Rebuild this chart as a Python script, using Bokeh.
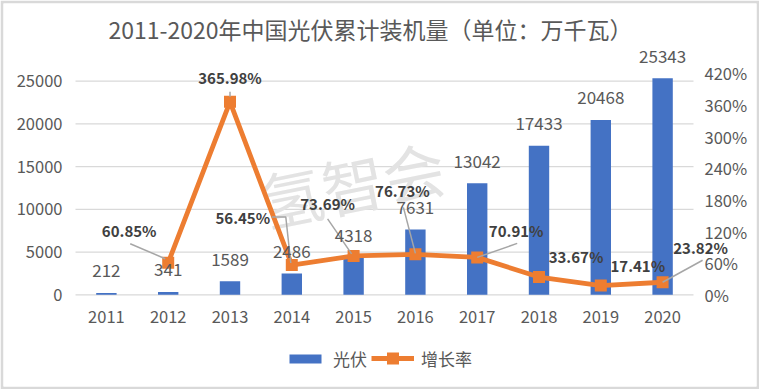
from bokeh.plotting import figure
from bokeh.models import (Range1d, LinearAxis, FixedTicker, Label, Legend, LegendItem,
                          PrintfTickFormatter)
from bokeh.embed import file_html
from bokeh.resources import INLINE
from bokeh.core.properties import value

# ---------------- data ----------------
years = ["2011", "2012", "2013", "2014", "2015", "2016", "2017", "2018", "2019", "2020"]
capacity = [212, 341, 1589, 2486, 4318, 7631, 13042, 17433, 20468, 25343]
growth_years = ["2012", "2013", "2014", "2015", "2016", "2017", "2018", "2019", "2020"]
growth = [60.85, 365.98, 56.45, 73.69, 76.73, 70.91, 33.67, 17.41, 23.82]
left_ticks = [0, 5000, 10000, 15000, 20000, 25000]
right_ticks = [0, 60, 120, 180, 240, 300, 360, 420]
title_text = "2011-2020年中国光伏累计装机量（单位：万千瓦）"
watermark = "氢智会"

# ---------------- layout (pixels, page coords) ----------------
W, H = 759, 389
B = 3                            # grey border width
FL, FT, FR, FB = B, B, W - B, H - B   # frame covers nearly the whole canvas
BAND_L, BAND_R = 75, 693         # category band
ZERO_Y = 294.3                   # y of value 0
CAT_W = (BAND_R - BAND_L) / len(years)
PX_PER_LEFT = 213.6 / 25000      # px per unit, primary axis
PX_PER_PCT = 221.5 / 420         # px per %, secondary axis
X_RANGE = (-(BAND_L - FL) / CAT_W, len(years) + (FR - BAND_R) / CAT_W)
LEFT_RANGE = (-(FB - ZERO_Y) / PX_PER_LEFT, (ZERO_Y - FT) / PX_PER_LEFT)
RIGHT_RANGE = (-(FB - ZERO_Y) / PX_PER_PCT, (ZERO_Y - FT) / PX_PER_PCT)

def fx(px):
    return px - FL

def fy(py):
    return FB - py

# percent-label offsets from their point (px)
pct_dx = [-39, 0, -49, -26, -13, 39, 37, 37, 38]
pct_dy = [-32, -24, -48, -52, -64, -27, -21, -20, -35]
# leader lines, as pixel paths relative to their point
leaders = {
    "2012": [(-38, -19), (-3, -4)],
    "2013": [(0, -10), (0, -5)],
    "2014": [(-20, -48), (-6, -48), (-1, -2)],
    "2015": [(-26, -37), (-2, -2)],
    "2016": [(-12, -47), (0, -1)],
    "2017": [(40, -14), (0, 0)],
    "2020": [(40, -22), (0, 0)],
}

FONTNAME = "Noto Sans CJK SC"
FONT = value(FONTNAME)
GRAY = "#595959"
BLUE = "#4472C4"
ORANGE = "#ED7D31"
TICK_SIZE = "16.5px"

p = figure(width=W, height=H, x_range=Range1d(*X_RANGE), y_range=Range1d(*LEFT_RANGE),
           output_backend="svg", toolbar_location=None,
           min_border_left=FL, min_border_right=W - FR, min_border_top=FT,
           min_border_bottom=H - FB)
p.extra_y_ranges = {"pct": Range1d(*RIGHT_RANGE)}
p.outline_line_color = None
p.background_fill_color = "white"
p.border_fill_color = "#d9d9d9"

xpos = {y: i + 0.5 for i, y in enumerate(years)}
bx = [xpos[y] for y in years]
gx = [xpos[y] for y in growth_years]

# watermark
p.add_layout(Label(x=fx(352), y=fy(182), x_units="screen", y_units="screen", text=watermark,
                   text_font=FONTNAME, text_font_size="62px", text_color="#e3e3e3",
                   text_align="center", text_baseline="middle", angle=0.2, level="underlay"))

# grid lines across the category band
p.segment(x0=[0] * len(left_ticks), x1=[len(years)] * len(left_ticks), y0=left_ticks,
          y1=left_ticks, line_color="#d9d9d9", line_width=1.2, level="underlay")

bars = p.vbar(x=bx, top=capacity, width=0.33, fill_color=BLUE, line_color=None)
line = p.line(x=gx, y=growth, y_range_name="pct", line_color=ORANGE, line_width=4.8,
              line_join="round")
marks = p.scatter(x=gx, y=growth, y_range_name="pct", marker="square", size=12,
                  fill_color=ORANGE, line_color=None)

# leader lines
gmap = dict(zip(growth_years, growth))
lxs, lys = [], []
for yr, path in leaders.items():
    lxs.append([xpos[yr] + dx / CAT_W for dx, dy in path])
    lys.append([gmap[yr] - dy / PX_PER_PCT for dx, dy in path])
p.multi_line(xs=lxs, ys=lys, y_range_name="pct", line_color="#a6a6a6", line_width=1.5)

# bar labels
p.text(x=bx, y=capacity, text=[str(v) for v in capacity], y_offset=-22,
       text_align="center", text_baseline="middle", text_font=FONT,
       text_font_size="17px", text_color=GRAY)
# percent labels
p.text(x=gx, y=growth, text=[f"{v:.2f}%" for v in growth], x_offset=pct_dx, y_offset=pct_dy,
       y_range_name="pct", text_align="center", text_baseline="middle", text_font=FONT,
       text_font_size="15px", text_font_style="bold", text_color="#404040")

# axes (labels drawn inside the frame via negative standoffs)
p.xaxis.ticker = FixedTicker(ticks=bx)
p.xaxis.major_label_overrides = {xpos[y]: y for y in years}
p.yaxis.ticker = FixedTicker(ticks=left_ticks)
right = LinearAxis(y_range_name="pct", ticker=FixedTicker(ticks=right_ticks),
                   formatter=PrintfTickFormatter(format="%d%%"))
p.add_layout(right, "right")
for ax in [p.xaxis[0], p.yaxis[0], right]:
    ax.axis_line_color = None
    ax.major_tick_line_color = None
    ax.minor_tick_line_color = None
    ax.major_tick_out = 0
    ax.major_tick_in = 0
    ax.major_label_text_font = FONTNAME
    ax.major_label_text_font_size = TICK_SIZE
    ax.major_label_text_color = GRAY
p.xaxis.major_label_standoff = 310 - FB
p.yaxis[0].major_label_standoff = -(62 - FL)
right.major_label_standoff = 704 - FR

p.xgrid.visible = False
p.ygrid.visible = False

# title
p.add_layout(Label(x=fx(370), y=fy(28.5), x_units="screen", y_units="screen", text=title_text,
                   text_font=FONTNAME, text_font_size="23px", text_color=GRAY,
                   text_align="center", text_baseline="middle"))

# legends
leg1 = Legend(items=[LegendItem(label="光伏", renderers=[bars])], location=(fx(285), fy(371)),
              glyph_width=40, glyph_height=11, label_height=11, padding=0, margin=0,
              label_standoff=8, border_line_color=None, background_fill_alpha=0,
              label_text_font=FONTNAME, label_text_font_size="17px", label_text_color=GRAY)
leg2 = Legend(items=[LegendItem(label="增长率", renderers=[line, marks])],
              location=(fx(371), fy(373)),
              glyph_width=43, glyph_height=30, label_height=30, padding=0, margin=0,
              label_standoff=7, border_line_color=None, background_fill_alpha=0,
              label_text_font=FONTNAME, label_text_font_size="17px", label_text_color=GRAY)
p.add_layout(leg1)
p.add_layout(leg2)

open("out.html", "w").write(file_html(p, INLINE))
